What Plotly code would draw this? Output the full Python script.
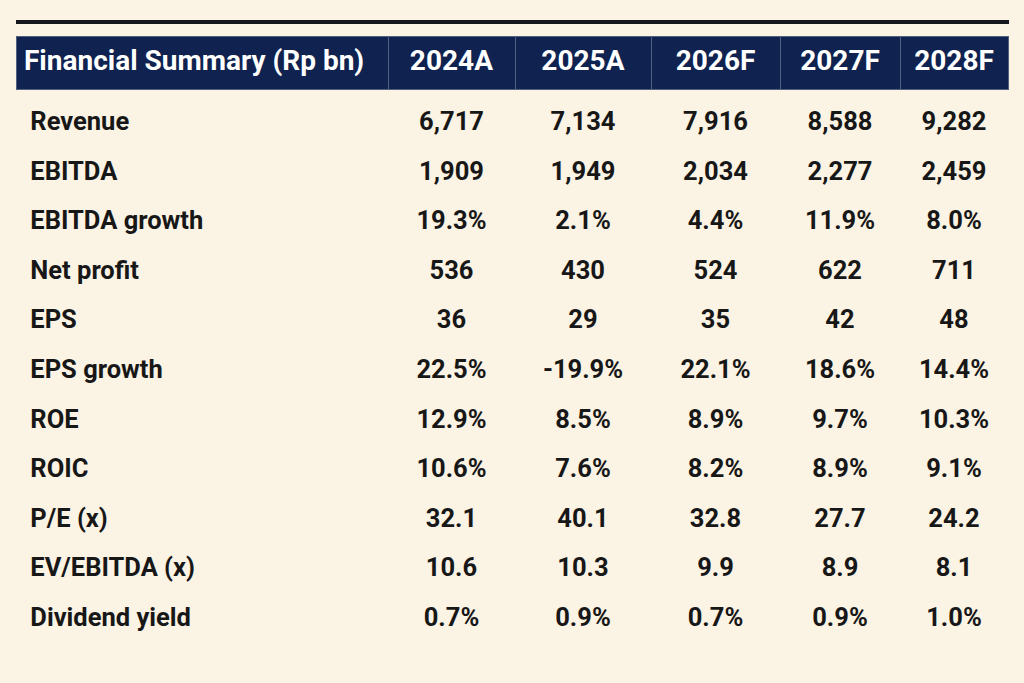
import plotly.graph_objects as go

# Financial summary table

title_col = "Financial Summary (Rp bn)"
years = ["2024A", "2025A", "2026F", "2027F", "2028F"]

metrics = ["Revenue", "EBITDA", "EBITDA growth", "Net profit", "EPS", "EPS growth",
           "ROE", "ROIC", "P/E (x)", "EV/EBITDA (x)", "Dividend yield"]

y2024 = ["6,717", "1,909", "19.3%", "536", "36", "22.5%", "12.9%", "10.6%", "32.1", "10.6", "0.7%"]
y2025 = ["7,134", "1,949", "2.1%", "430", "29", "-19.9%", "8.5%", "7.6%", "40.1", "10.3", "0.9%"]
y2026 = ["7,916", "2,034", "4.4%", "524", "35", "22.1%", "8.9%", "8.2%", "32.8", "9.9", "0.7%"]
y2027 = ["8,588", "2,277", "11.9%", "622", "42", "18.6%", "9.7%", "8.9%", "27.7", "8.9", "0.9%"]
y2028 = ["9,282", "2,459", "8.0%", "711", "48", "14.4%", "10.3%", "9.1%", "24.2", "8.1", "1.0%"]

bg = "#fbf3e4"
navy = "#0f2250"
font_family = "Roboto, sans-serif"
col_widths = [372, 127, 136, 129, 120, 108]
x_dom = [16 / 1024, 1008 / 1024]


def bold(items, pad=""):
    return ["<b>" + pad + s + "</b>" for s in items]


header_vals = bold([title_col] + years)
cell_vals = [bold(metrics, "\u00a0"), bold(y2024), bold(y2025), bold(y2026), bold(y2027), bold(y2028)]

fig = go.Figure()

# navy header band
fig.add_trace(go.Table(
    domain=dict(x=x_dom, y=[1 - 92 / 683, 1 - 36 / 683]),
    columnwidth=col_widths,
    header=dict(
        values=header_vals,
        fill_color=navy,
        line=dict(color="#52607e", width=1),
        align=["left", "center"],
        font=dict(family=font_family, size=28, color="white"),
        height=53,
    ),
    cells=dict(values=[[] for _ in header_vals], fill_color=bg, line=dict(color=bg, width=0)),
))

# body rows
fig.add_trace(go.Table(
    domain=dict(x=x_dom, y=[0, 1 - 97 / 683]),
    columnwidth=col_widths,
    header=dict(values=["" for _ in header_vals], height=1, fill_color=bg,
                line=dict(color=bg, width=0)),
    cells=dict(
        values=cell_vals,
        fill_color=bg,
        line=dict(color=bg, width=0),
        align=["left", "center"],
        font=dict(family=font_family, size=25.5, color="#171717"),
        height=49.6,
    ),
))

# thick rule above the table
fig.add_shape(type="line", xref="paper", yref="paper",
              x0=16 / 1024, x1=1009 / 1024, y0=1 - 22 / 683, y1=1 - 22 / 683,
              line=dict(color="#15171f", width=4))

fig.update_layout(width=1024, height=683, paper_bgcolor=bg, plot_bgcolor=bg,
                  margin=dict(l=0, r=0, t=0, b=0))

fig.write_html("out.html", config=dict(displayModeBar=False),
               post_script="document.body.style.margin='0';document.body.style.background='#fbf3e4';")
